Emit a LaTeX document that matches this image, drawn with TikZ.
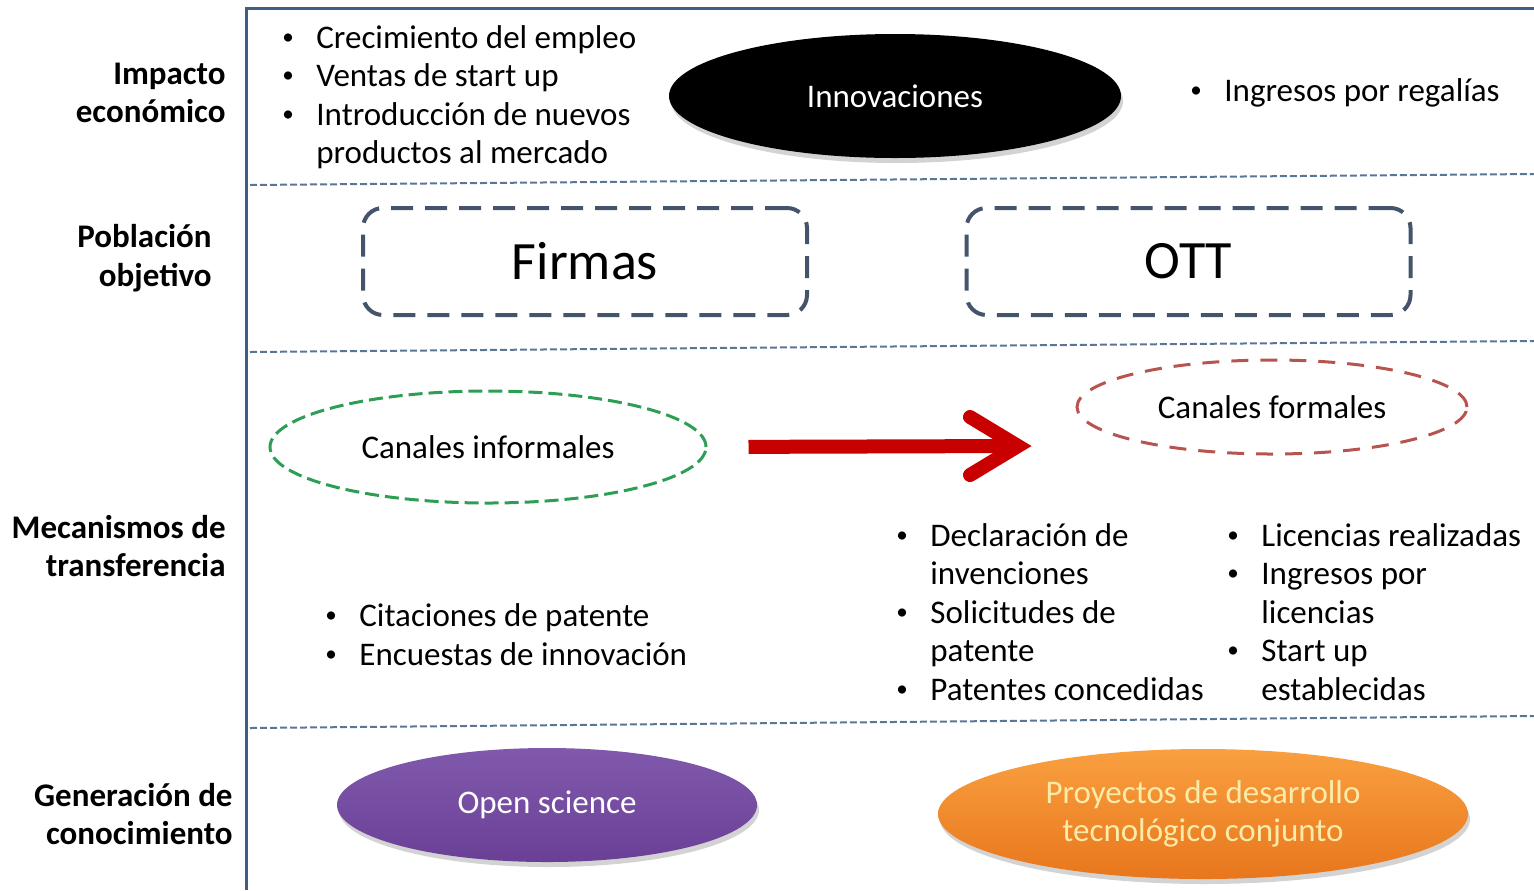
\documentclass[tikz,border=0pt]{standalone}
\usepackage{fontspec}
\usepackage{graphicx}
\setmainfont{Carlito}
\usetikzlibrary{shapes.geometric,shadows,positioning}

\definecolor{frameblue}{HTML}{3F5F82}
\definecolor{sepblue}{HTML}{5B7693}
\definecolor{boxblue}{HTML}{44546A}
\definecolor{infgreen}{HTML}{2E9E55}
\definecolor{forred}{HTML}{B85450}
\definecolor{arrred}{HTML}{C80000}
\definecolor{ostop}{HTML}{8059AC}
\definecolor{osbot}{HTML}{6A4096}
\definecolor{prtop}{HTML}{F9A040}
\definecolor{prbot}{HTML}{E8761C}
\definecolor{prtext}{HTML}{FBEBA8}

\newcommand{\itm}{\makebox[18pt][l]{\hspace*{1pt}\raisebox{0.12em}{\scalebox{0.7}{\textbullet}}}}

\tikzset{
  txt/.style={font=\fontsize{16.5}{19.2}\selectfont, inner sep=0pt},
  lbl/.style={inner sep=0pt, font=\fontsize{16.5}{19.2}\selectfont\bfseries, align=right, anchor=east},
  lst/.style={txt, align=left, anchor=west},
  sep/.style={sepblue, line width=1pt, dash pattern=on 3.5pt off 1.5pt},
  popbox/.style={draw=boxblue, line width=2pt, dash pattern=on 11pt off 6pt, rounded corners=10pt,
    minimum width=222pt, minimum height=53.5pt, inner sep=0pt, font=\fontsize{27}{32}\selectfont},
  chan/.style={ellipse, txt, line width=1.5pt},
  blob/.style={ellipse, txt, align=center, drop shadow={opacity=0.35, shadow xshift=1pt, shadow yshift=-2.5pt}},
  arrline/.style={arrred, line width=7pt},
}

\begin{document}
\begin{tikzpicture}[x=0.5pt, y=-0.5pt]
\useasboundingbox (0,0) rectangle (1534,890);

% frame
\draw[frameblue, line width=1.5pt] (246,890) -- (246,8) -- (1534,8);

% separators
\draw[sep] (250,185) -- (1534,174);
\draw[sep] (250,352) -- (1534,341);
\draw[sep] (250,728) -- (1534,716);

% row labels
\node[lbl] (limp) at (226,93) {Impacto\\económico};
\node[lbl] (lpob) at (212,258) {Población\\objetivo};
\node[lbl] (lmec) at (226,546) {Mecanismos de\\transferencia};
\node[lbl] (lgen) at (233,814) {Generación de\\conocimiento};

% impacto economico
\node[lst] (impl) at (280,97) {\itm Crecimiento del empleo\\\itm Ventas de start up\\\itm Introducción de nuevos\\\hspace*{18pt}productos al mercado};
\node[blob, fill=black, text=white, minimum width=226pt, minimum height=62pt] (inno) at (895,96) {Innovaciones};
\node[lst] (regal) at (1188,93) {\itm Ingresos por regalías};

% poblacion objetivo
\node[popbox] (firmas) at (585,261.5) {Firmas};
\node[popbox] (ott) at (1188.5,261.5) {OTT};

% mecanismos
\node[chan, draw=infgreen, dash pattern=on 7pt off 3pt, minimum width=218pt, minimum height=56pt] (inf) at (488,447) {Canales informales};
\node[chan, draw=forred, dash pattern=on 8.5pt off 6pt, minimum width=195pt, minimum height=47pt] (form) at (1272,407) {Canales formales};

\coordinate (arrtip) at (1018,446);
\draw[arrline, shorten <=20.5pt, shorten >=4pt] (inf.east) -- (arrtip);
\draw[arrline, line cap=round, line join=miter] ([shift={(-48,-29)}]arrtip) -- (arrtip) -- ([shift={(-48,29)}]arrtip);

\node[lst] (infl) at (323,634.5) {\itm Citaciones de patente\\\itm Encuestas de innovación};
\node[lst] (forl1) at (894,612) {\itm Declaración de\\\hspace*{18pt}invenciones\\\itm Solicitudes de\\\hspace*{18pt}patente\\\itm Patentes concedidas};
\node[lst] (forl2) at (1225,612) {\itm Licencias realizadas\\\itm Ingresos por\\\hspace*{18pt}licencias\\\itm Start up\\\hspace*{18pt}establecidas};

% generacion de conocimiento
\node[blob, top color=ostop, bottom color=osbot, text=white, minimum width=210pt, minimum height=57pt] (open) at (547,805) {Open science};
\node[blob, top color=prtop, bottom color=prbot, text=prtext, minimum width=265pt, minimum height=65pt] (proy) at (1203,814) {Proyectos de desarrollo\\tecnológico conjunto};

\end{tikzpicture}
\end{document}
